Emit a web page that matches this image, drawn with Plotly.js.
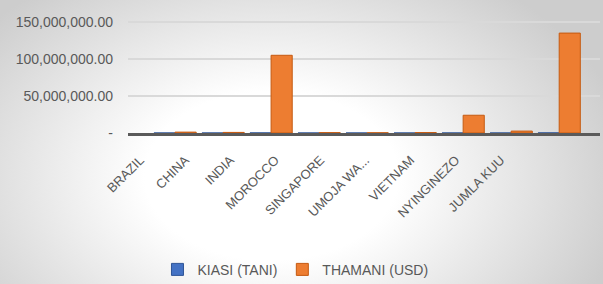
<!DOCTYPE html>
<html>
<head>
<meta charset="utf-8">
<script src="https://cdn.plot.ly/plotly-3.0.1.min.js"></script>
<style>
  html, body { margin: 0; padding: 0; }
  #chart {
    width: 603px; height: 284px;
    background: radial-gradient(ellipse 60% 85% at 45% 62%, #ffffff 35%, #cdcdcd 100%);
  }
</style>
</head>
<body>
<div id="chart"></div>
<script>
const categories = ["BRAZIL", "CHINA", "INDIA", "MOROCCO", "SINGAPORE", "UMOJA WA...", "VIETNAM", "NYINGINEZO", "JUMLA KUU"];
const kiasiTani = [900, 600, 95000, 400, 200, 500, 21000, 2000, 120600];
const thamaniUsd = [1200000, 800000, 105000000, 500000, 300000, 600000, 24000000, 2600000, 135000000];
const yTickVals = [0, 50000000, 100000000, 150000000];
const yTickText = ["-", "50,000,000.00", "100,000,000.00", "150,000,000.00"];
const seriesNames = ["KIASI (TANI)", "THAMANI (USD)"];

const idx = categories.map((c, i) => i);
const grey = "#595959";
const font = "Liberation Sans, Arial, sans-serif";

const traces = [
  {
    type: "bar", name: seriesNames[0], x: idx, y: kiasiTani,
    marker: { color: "#4472C4", line: { color: "#2F5597", width: 1 } },
    hoverinfo: "skip"
  },
  {
    type: "bar", name: seriesNames[1], x: idx, y: thamaniUsd,
    marker: { color: "#ED7D31", line: { color: "#C55A11", width: 1 } },
    hoverinfo: "skip"
  },
  {
    type: "scatter", mode: "markers", x: idx, y: idx.map(() => 0), xaxis: "x2",
    marker: { opacity: 0 }, showlegend: false, hoverinfo: "skip"
  }
];

const layout = {
  width: 603, height: 284,
  margin: { l: 128, r: 3, t: 10, b: 151 },
  paper_bgcolor: "rgba(0,0,0,0)",
  plot_bgcolor: "rgba(0,0,0,0)",
  barmode: "group",
  bargap: 0.12,
  bargroupgap: 0,
  showlegend: true,
  legend: {
    orientation: "h",
    xref: "container", yref: "container",
    x: 0.49, y: 0.05, xanchor: "center", yanchor: "middle",
    font: { family: font, size: 14, color: grey },
    itemwidth: 30, tracegroupgap: 0
  },
  xaxis: {
    type: "linear",
    range: [-0.98, 8.85],
    showticklabels: false,
    showgrid: false, zeroline: false,
    showline: true, linecolor: "#5a5a5a", linewidth: 3,
    ticks: ""
  },
  xaxis2: {
    type: "linear",
    overlaying: "x", anchor: "y", side: "bottom",
    range: [-0.27, 10.2],
    tickvals: idx, ticktext: categories,
    tickangle: -45,
    ticklabelstandoff: 16,
    tickfont: { family: font, size: 13, color: grey },
    showgrid: false, zeroline: false, showline: false, ticks: ""
  },
  yaxis: {
    range: [0, 166200000],
    tickvals: yTickVals, ticktext: yTickText,
    tickfont: { family: font, size: 14, color: grey },
    showgrid: true, gridcolor: "#d9d9d9", gridwidth: 1.5,
    zeroline: false, showline: false, ticks: "",
    ticklabelstandoff: 14
  }
};

Plotly.newPlot("chart", traces, layout, { displayModeBar: false, staticPlot: true });
</script>
</body>
</html>
